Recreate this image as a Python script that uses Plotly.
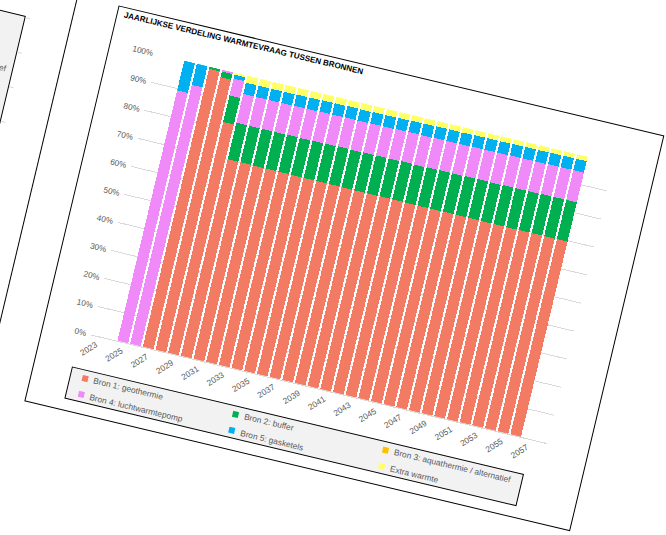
import plotly.graph_objects as go

# ---------------- data ----------------
years = ["2023", "2024", "2025", "2026", "2027", "2028", "2029", "2030", "2031", "2032",
         "2033", "2034", "2035", "2036", "2037", "2038", "2039", "2040", "2041", "2042",
         "2043", "2044", "2045", "2046", "2047", "2048", "2049", "2050", "2051", "2052",
         "2053", "2054", "2055", "2056", "2057", "2058"]
tick_years = ["2023", "2025", "2027", "2029", "2031", "2033", "2035", "2037", "2039",
              "2041", "2043", "2045", "2047", "2049", "2051", "2053", "2055", "2057"]
y_ticks = [0, 10, 20, 30, 40, 50, 60, 70, 80, 90, 100]
y_tick_text = ["0%", "10%", "20%", "30%", "40%", "50%", "60%", "70%", "80%", "90%", "100%"]

bron1_geothermie = [None, None, 0, 0, 99.2, 97.3, 82.4,
                    70.2, 70.2, 70.1, 70.1, 70.1, 70.0, 70.0, 70.0, 70.0, 69.9, 69.9, 69.9, 69.9,
                    69.9, 69.8, 69.8, 69.8, 69.8, 69.8, 69.8, 69.7, 69.7, 69.7, 69.7, 69.7, 69.7, 69.7,
                    None, None]
bron2_buffer = [None, None, 0, 0, 0.8, 2.1, 9.5,
                13.0, 13.0, 13.1, 13.1, 13.2, 13.2, 13.3, 13.3, 13.4, 13.4, 13.5, 13.5, 13.5,
                13.6, 13.6, 13.7, 13.7, 13.7, 13.8, 13.8, 13.8, 13.9, 13.9, 13.9, 14.0, 14.0, 14.0,
                None, None]
bron3_aquathermie = [None, None, 0, 0, 0, 0, 0,
                     0, 0, 0, 0, 0, 0, 0, 0, 0, 0, 0, 0, 0,
                     0, 0, 0, 0, 0, 0, 0, 0, 0, 0, 0, 0, 0, 0,
                     None, None]
bron4_luchtwarmtepomp = [None, None, 89.4, 92.4, 0, 0.6, 6.0,
                         10.3, 10.3, 10.3, 10.3, 10.3, 10.4, 10.4, 10.4, 10.4, 10.4, 10.4, 10.4, 10.5,
                         10.5, 10.5, 10.5, 10.5, 10.5, 10.5, 10.5, 10.6, 10.6, 10.6, 10.6, 10.6, 10.6, 10.6,
                         None, None]
bron5_gasketels = [None, None, 10.6, 7.6, 0, 0, 1.7,
                   4.0, 4.0, 4.0, 4.0, 4.0, 4.0, 4.0, 4.0, 4.0, 4.0, 4.0, 4.0, 4.0,
                   4.0, 4.1, 4.1, 4.1, 4.1, 4.1, 4.1, 4.1, 4.1, 4.1, 4.1, 4.1, 4.1, 4.1,
                   None, None]
extra_warmte = [None, None, 0, 0, 0, 0, 0.4,
                2.5, 2.5, 2.5, 2.5, 2.4, 2.4, 2.3, 2.3, 2.2, 2.3, 2.2, 2.2, 2.1,
                2.0, 2.0, 1.9, 1.9, 1.9, 1.8, 1.8, 1.8, 1.7, 1.7, 1.7, 1.6, 1.6, 1.6,
                None, None]

series_names = ["Bron 1: geothermie", "Bron 2: buffer", "Bron 3: aquathermie / alternatief",
                "Bron 4: luchtwarmtepomp", "Bron 5: gasketels", "Extra warmte"]
series_values = [bron1_geothermie, bron2_buffer, bron3_aquathermie,
                 bron4_luchtwarmtepomp, bron5_gasketels, extra_warmte]
series_colors = ["#F47B63", "#00B050", "#FFC000", "#F08AF8", "#00B0F0", "#FFFF66"]

title_text = "JAARLIJKSE VERDELING WARMTEVRAAG TUSSEN BRONNEN"
prev_legend_text = "Bron 3: aquathermie / alternatief"

# ---------------- geometry (chart-box pixel frame, before page rotation) ----------------
OX, OY = 130, 20            # chart box top-left inside the figure
BOX_W, BOX_H = 560, 406
PL, PT, PW, PH = 49, 38, 469, 288   # plot area inside the chart box
W = OX + BOX_W + 10
H = OY + BOX_H + 10
ROT = 13.4                  # page rotation (deg, clockwise)
SCREEN_TL = (118.5, 5.5)    # where the chart box corner lands on the page


def px(u):
    return (u - PL) / PW


def py(v):
    return 1 - (v - PT) / PH


GRAY_TXT = "#595959"
GRID = "#D9D9D9"
FONT = "Liberation Sans, Arial, sans-serif"

fig = go.Figure()
for name, vals, col in zip(series_names, series_values, series_colors):
    fig.add_trace(go.Bar(x=years, y=vals, name=name,
                         marker=dict(color=col, line=dict(width=0)),
                         showlegend=False, hoverinfo="skip"))

shapes = []
annotations = []

# chart area box
shapes.append(dict(type="rect", xref="paper", yref="paper",
                   x0=px(0), x1=px(BOX_W), y0=py(BOX_H), y1=py(0),
                   line=dict(color="black", width=1), fillcolor="white", layer="below"))

# legend box
LEG_U0, LEG_U1, LEG_V0, LEG_V1 = 38.3, 502, 362, 394
shapes.append(dict(type="rect", xref="paper", yref="paper",
                   x0=px(LEG_U0), x1=px(LEG_U1), y0=py(LEG_V1), y1=py(LEG_V0),
                   line=dict(color="black", width=1), fillcolor="#F2F2F2", layer="below"))
leg_cols = [53.4, 208.0, 362.2]
leg_rows = [370.3, 386.6]
leg_order = [0, 1, 2, 3, 4, 5]
for k, idx in enumerate(leg_order):
    cu = leg_cols[k % 3]
    cv = leg_rows[k // 3]
    shapes.append(dict(type="rect", xref="paper", yref="paper",
                       x0=px(cu - 3), x1=px(cu + 3), y0=py(cv + 3), y1=py(cv - 3),
                       line=dict(width=0), fillcolor=series_colors[idx], layer="above"))
    annotations.append(dict(xref="paper", yref="paper", x=px(cu + 6.5), y=py(cv),
                            xanchor="left", yanchor="middle", showarrow=False,
                            text=series_names[idx],
                            font=dict(family=FONT, size=8.4, color=GRAY_TXT)))

# title
annotations.append(dict(xref="paper", yref="paper", x=px(5), y=py(8),
                        xanchor="left", yanchor="middle", showarrow=False,
                        text="<b>" + title_text + "</b>",
                        font=dict(family=FONT, size=8.1, color="black")))

# neighbouring chart on the left (partly visible)
shapes.append(dict(type="line", xref="paper", yref="paper",
                   x0=px(-42.5), x1=px(-42.5), y0=py(-40), y1=py(440),
                   line=dict(color="black", width=1)))
shapes.append(dict(type="rect", xref="paper", yref="paper",
                   x0=px(-300), x1=px(-88.8), y0=py(260), y1=py(31.7),
                   line=dict(color="black", width=1), fillcolor="#F2F2F2"))
for gv in [33, 68.5, 104, 139.5, 175]:
    shapes.append(dict(type="line", xref="paper", yref="paper",
                       x0=px(-88.3), x1=px(-83.5), y0=py(gv), y1=py(gv),
                       line=dict(color=GRID, width=1)))
annotations.append(dict(xref="paper", yref="paper", x=px(-93.3), y=py(87),
                        xanchor="right", yanchor="middle", showarrow=False,
                        text=prev_legend_text,
                        font=dict(family=FONT, size=8.4, color=GRAY_TXT)))

fig.update_layout(
    width=W, height=H,
    margin=dict(l=OX + PL, t=OY + PT, r=W - (OX + PL + PW), b=H - (OY + PT + PH), pad=0),
    paper_bgcolor="white", plot_bgcolor="rgba(0,0,0,0)",
    barmode="stack", bargap=0.16,
    showlegend=False,
    shapes=shapes, annotations=annotations,
    font=dict(family=FONT, size=8.2, color=GRAY_TXT),
    xaxis=dict(type="category", categoryorder="array", categoryarray=years,
               tickmode="array", tickvals=tick_years, ticktext=tick_years,
               tickangle=-45, showline=True, linecolor=GRID, linewidth=1,
               showgrid=False, ticks="", zeroline=False,
               tickfont=dict(family=FONT, size=8.4, color=GRAY_TXT)),
    yaxis=dict(range=[0, 100], tickmode="array", tickvals=y_ticks, ticktext=y_tick_text,
               showgrid=True, gridcolor=GRID, gridwidth=1, showline=False,
               ticks="", zeroline=False, ticklabelstandoff=4,
               tickfont=dict(family=FONT, size=8.2, color=GRAY_TXT)),
)

post_js = """
var gd = document.getElementById('{plot_id}');
document.documentElement.style.overflow = 'hidden';
document.body.style.overflow = 'hidden';
document.body.style.margin = '0';
document.body.style.background = 'white';
gd.style.position = 'absolute';
gd.style.left = '%spx';
gd.style.top = '%spx';
gd.style.transformOrigin = '%spx %spx';
gd.style.transform = 'rotate(%sdeg)';
""" % (SCREEN_TL[0] - OX, SCREEN_TL[1] - OY, OX, OY, ROT)

fig.write_html("out.html", post_script=post_js, config=dict(displayModeBar=False))
